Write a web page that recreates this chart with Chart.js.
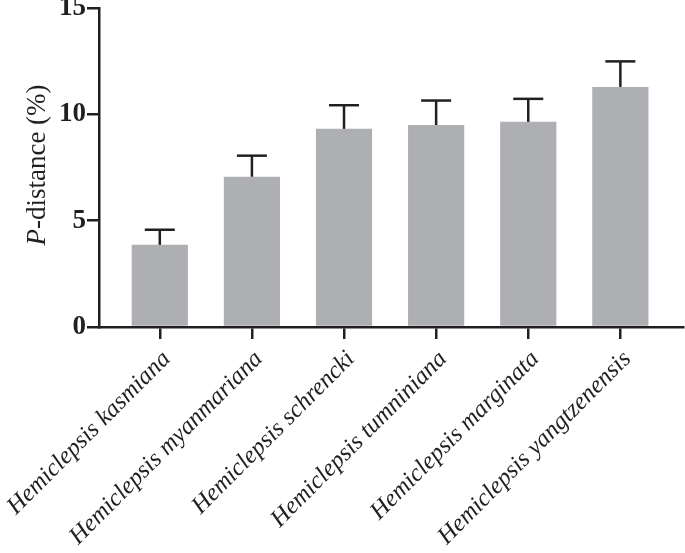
<!DOCTYPE html>
<html><head><meta charset="utf-8">
<script src="https://cdn.jsdelivr.net/npm/chart.js@4/dist/chart.umd.min.js"></script>
<style>html,body{margin:0;padding:0;background:#fff}#wrap{width:685px;height:553px}</style>
</head><body><div id="wrap"><canvas id="c" width="685" height="553"></canvas></div>
<script>
const categories = ["Hemiclepsis kasmiana","Hemiclepsis myanmariana","Hemiclepsis schrencki","Hemiclepsis tumniniana","Hemiclepsis marginata","Hemiclepsis yangtzenensis"];
const meanValues = [3.86, 7.06, 9.31, 9.49, 9.64, 11.28];
const errorValues = [0.71, 0.99, 1.11, 1.15, 1.08, 1.20];
const yTicks = [0, 5, 10, 15];
const yTitleItalic = "P";
const yTitleRest = "-distance (%)";

const ink = '#231f20';
const serif = "'Liberation Serif', 'Times New Roman', serif";

const errorBars = {
  id: 'errorBars',
  afterDatasetsDraw(chart) {
    const xs = chart.scales.x, ys = chart.scales.y, ctx = chart.ctx;
    ctx.save();
    ctx.strokeStyle = ink; ctx.lineWidth = 2.5; ctx.lineCap = 'butt';
    meanValues.forEach((v, i) => {
      const x = xs.getPixelForValue(i);
      const y0 = ys.getPixelForValue(v);
      const y1 = ys.getPixelForValue(v + errorValues[i]);
      ctx.beginPath(); ctx.moveTo(x, y0); ctx.lineTo(x, y1); ctx.stroke();
      ctx.beginPath(); ctx.moveTo(x - 15, y1); ctx.lineTo(x + 15, y1); ctx.stroke();
    });
    ctx.restore();
  }
};

const yTitle = {
  id: 'yTitle',
  afterDraw(chart) {
    const ctx = chart.ctx;
    ctx.save();
    const fi = "italic 27px " + serif, fr = "27px " + serif;
    ctx.font = fi; const w1 = ctx.measureText(yTitleItalic).width;
    ctx.font = fr; const w2 = ctx.measureText(yTitleRest).width;
    const total = w1 + w2;
    const cy = 165, cx = 38;
    ctx.translate(cx, cy); ctx.rotate(-Math.PI / 2);
    ctx.fillStyle = ink; ctx.textBaseline = 'middle'; ctx.textAlign = 'left';
    ctx.font = fi; ctx.fillText(yTitleItalic, -total / 2, 0);
    ctx.font = fr; ctx.fillText(yTitleRest, -total / 2 + w1, 0);
    ctx.restore();
  }
};

new Chart(document.getElementById('c'), {
  type: 'bar',
  data: {
    datasets: [{
      data: meanValues.map((v, i) => ({ x: i, y: v })),
      backgroundColor: '#aeafb2',
      borderWidth: 0,
      categoryPercentage: 1,
      barPercentage: 0.61
    }]
  },
  options: {
    responsive: false,
    animation: false,
    devicePixelRatio: 1,
    layout: { padding: { top: 6, right: 2, left: 0, bottom: 0 } },
    plugins: { legend: { display: false }, tooltip: { enabled: false } },
    scales: {
      x: {
        type: 'linear',
        offset: false,
        min: -0.66, max: 5.68,
        afterBuildTicks: s => { s.ticks = categories.map((_, i) => ({ value: i })); },
        afterFit: s => { s.height = 226; s.paddingLeft = 0; s.paddingRight = 0; },
        grid: { display: true, offset: false, drawOnChartArea: false, drawTicks: true, tickLength: 12, color: ink, lineWidth: 2.5 },
        border: { display: true, color: ink, width: 2.5 },
        ticks: {
          autoSkip: false,
          minRotation: 45, maxRotation: 45,
          labelOffset: 7,
          padding: 6,
          color: ink,
          font: { family: serif, size: 24.5, style: 'italic' },
          callback: v => categories[v] ?? ''
        }
      },
      y: {
        min: 0, max: 15,
        afterBuildTicks: s => { s.ticks = yTicks.map(v => ({ value: v })); },
        afterFit: s => { s.width = 99; },
        grid: { display: true, drawOnChartArea: false, drawTicks: true, tickLength: 12, color: ink, lineWidth: 2.5 },
        border: { display: true, color: ink, width: 2.5 },
        ticks: {
          padding: 1,
          color: ink,
          font: { family: serif, size: 27, weight: 'bold', lineHeight: 0.5 }
        }
      }
    }
  },
  plugins: [errorBars, yTitle]
});
</script>
</body></html>
